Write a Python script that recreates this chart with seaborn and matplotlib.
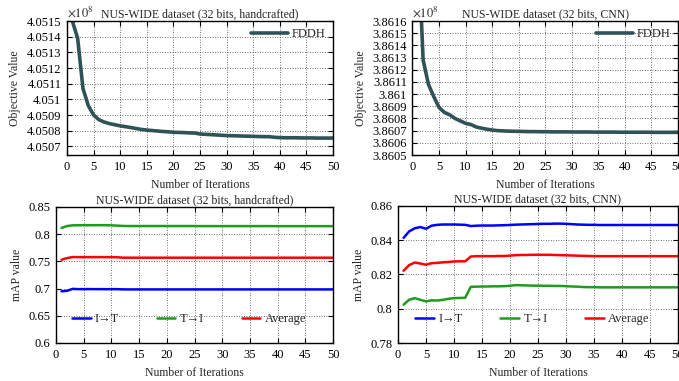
import numpy as np
import matplotlib
matplotlib.use("Agg")
import matplotlib.pyplot as plt
from matplotlib.ticker import MultipleLocator, FuncFormatter
import seaborn as sns

iters = list(range(1, 51))

# objective value (x 1e8), handcrafted features
obj_hand = [4.05150, 4.05139, 4.05107, 4.05096, 4.05090, 4.05087, 4.050855, 4.050845, 4.050838, 4.050831,
            4.050826, 4.050820, 4.050814, 4.050808, 4.050804, 4.050801, 4.050798, 4.050795, 4.050793, 4.050790,
            4.050789, 4.050788, 4.050786, 4.050785, 4.050779, 4.050777, 4.050775, 4.050773, 4.050771, 4.050769,
            4.050768, 4.050767, 4.050766, 4.050765, 4.050764, 4.050763, 4.050762, 4.050762, 4.050758, 4.050756,
            4.050755, 4.050755, 4.050755, 4.050754, 4.050754, 4.050754, 4.050753, 4.050753, 4.050753, 4.050753]

# objective value (x 1e8), CNN features
obj_cnn = [3.86230, 3.86128, 3.86108, 3.86098, 3.86089, 3.86085, 3.86083, 3.86080, 3.86078, 3.86076,
           3.86075, 3.86073, 3.86072, 3.860712, 3.860705, 3.860700, 3.860698, 3.860696, 3.860695, 3.860694,
           3.860693, 3.860692, 3.860692, 3.860691, 3.860691, 3.860690, 3.860690, 3.860690, 3.860690, 3.860689,
           3.860689, 3.860689, 3.860689, 3.860688, 3.860688, 3.860688, 3.860688, 3.860688, 3.860687, 3.860687,
           3.860687, 3.860687, 3.860687, 3.860687, 3.860686, 3.860686, 3.860686, 3.860686, 3.860686, 3.860686]

# mAP, handcrafted
hand_i2t = [0.6950, 0.6960, 0.6995, 0.6990, 0.6990, 0.6991, 0.6990, 0.6990, 0.6989, 0.6990,
            0.6990, 0.6986, 0.6985, 0.6985, 0.6985, 0.6985, 0.6985, 0.6985, 0.6985, 0.6985,
            0.6985, 0.6985, 0.6985, 0.6985, 0.6985, 0.6985, 0.6985, 0.6985, 0.6985, 0.6985,
            0.6985, 0.6985, 0.6985, 0.6985, 0.6985, 0.6985, 0.6985, 0.6985, 0.6985, 0.6985,
            0.6985, 0.6985, 0.6985, 0.6985, 0.6985, 0.6985, 0.6985, 0.6985, 0.6985, 0.6985]
hand_t2i = [0.8115, 0.8150, 0.8163, 0.8164, 0.8165, 0.8165, 0.8166, 0.8166, 0.8165, 0.8163,
            0.8158, 0.8152, 0.8150, 0.8150, 0.8150, 0.8150, 0.8150, 0.8150, 0.8150, 0.8150,
            0.8150, 0.8150, 0.8150, 0.8150, 0.8150, 0.8149, 0.8149, 0.8149, 0.8149, 0.8149,
            0.8149, 0.8149, 0.8149, 0.8149, 0.8149, 0.8149, 0.8149, 0.8149, 0.8148, 0.8148,
            0.8148, 0.8148, 0.8148, 0.8148, 0.8148, 0.8148, 0.8148, 0.8148, 0.8148, 0.8148]
hand_avg = [0.7532, 0.7560, 0.7580, 0.7578, 0.7578, 0.7578, 0.7579, 0.7579, 0.7578, 0.7578,
            0.7577, 0.7568, 0.7568, 0.7568, 0.7568, 0.7568, 0.7568, 0.7568, 0.7568, 0.7568,
            0.7568, 0.7568, 0.7568, 0.7568, 0.7568, 0.7568, 0.7568, 0.7568, 0.7568, 0.7568,
            0.7568, 0.7568, 0.7568, 0.7568, 0.7568, 0.7568, 0.7568, 0.7568, 0.7568, 0.7568,
            0.7568, 0.7568, 0.7568, 0.7568, 0.7568, 0.7568, 0.7568, 0.7568, 0.7568, 0.7568]

# mAP, CNN
cnn_i2t = [0.8414, 0.8452, 0.8470, 0.8477, 0.8467, 0.8485, 0.8490, 0.8492, 0.8492, 0.8492,
           0.8491, 0.8490, 0.8483, 0.8485, 0.8486, 0.8486, 0.8486, 0.8487, 0.8488, 0.8489,
           0.8491, 0.8492, 0.8493, 0.8494, 0.8495, 0.8496, 0.8496, 0.8497, 0.8497, 0.8496,
           0.8494, 0.8492, 0.8491, 0.8490, 0.8490, 0.8489, 0.8489, 0.8489, 0.8489, 0.8489,
           0.8489, 0.8489, 0.8489, 0.8489, 0.8489, 0.8489, 0.8489, 0.8489, 0.8489, 0.8489]
cnn_t2i = [0.8024, 0.8053, 0.8062, 0.8052, 0.8043, 0.8049, 0.8048, 0.8052, 0.8058, 0.8062,
           0.8063, 0.8064, 0.8128, 0.8129, 0.8130, 0.8130, 0.8131, 0.8131, 0.8132, 0.8134,
           0.8138, 0.8137, 0.8136, 0.8135, 0.8135, 0.8134, 0.8134, 0.8133, 0.8133, 0.8132,
           0.8130, 0.8129, 0.8127, 0.8126, 0.8126, 0.8125, 0.8125, 0.8125, 0.8125, 0.8125,
           0.8125, 0.8125, 0.8125, 0.8125, 0.8125, 0.8125, 0.8125, 0.8125, 0.8125, 0.8125]
cnn_avg = [0.8222, 0.8255, 0.8270, 0.8264, 0.8257, 0.8266, 0.8268, 0.8271, 0.8273, 0.8276,
           0.8277, 0.8277, 0.8305, 0.8307, 0.8307, 0.8307, 0.8307, 0.8308, 0.8308, 0.8310,
           0.8313, 0.8314, 0.8314, 0.8315, 0.8315, 0.8315, 0.8315, 0.8314, 0.8313, 0.8312,
           0.8311, 0.8310, 0.8309, 0.8308, 0.8307, 0.8307, 0.8307, 0.8307, 0.8307, 0.8307,
           0.8307, 0.8307, 0.8307, 0.8307, 0.8307, 0.8307, 0.8307, 0.8307, 0.8307, 0.8307]

sns.set_style("ticks")
plt.rcParams['font.family'] = ['Liberation Serif', 'DejaVu Serif']
plt.rcParams['mathtext.fontset'] = 'stix'
plt.rcParams['font.size'] = 9

fs = 9      # ticks / legend
fs_t = 8.5  # titles / axis labels
obj_color = '#2f5256'
fig = plt.figure(figsize=(6.79, 3.81), dpi=100)

def style_axis(ax, title, ylabel):
    ax.set_xlim(0, 50)
    ax.xaxis.set_major_locator(MultipleLocator(5))
    ax.yaxis.set_major_formatter(FuncFormatter(lambda v, p: '%g' % round(v, 6)))
    ax.tick_params(direction='in', top=True, right=True, length=3.5, width=0.8,
                   labelsize=fs, pad=4, colors='black')
    ax.grid(True, color='0.25', linestyle=(0, (1, 2)), linewidth=0.6)
    for s in ax.spines.values():
        s.set_linewidth(1.0)
        s.set_color('black')
    ax.set_title(title, fontsize=fs_t, pad=3)
    ax.set_xlabel('Number of Iterations', fontsize=fs_t, labelpad=5)
    ax.set_ylabel(ylabel, fontsize=fs_t, labelpad=4)

# top left
ax1 = fig.add_axes([67/679, 1 - 155/381, 266/679, 134/381])
sns.lineplot(x=iters, y=obj_hand, ax=ax1, color=obj_color, linewidth=2.6, label='FDDH')
ax1.set_ylim(4.050645, 4.0515)
ax1.yaxis.set_major_locator(MultipleLocator(0.0001))
style_axis(ax1, 'NUS-WIDE dataset (32 bits, handcrafted)', 'Objective Value')
ax1.text(0, 1.01, r'$\times10^{8}$', transform=ax1.transAxes, ha='left', va='bottom', fontsize=fs)
ax1.legend(loc='upper right', frameon=False, fontsize=fs, handlelength=3.0,
           borderaxespad=0.2, handletextpad=0.3)

# top right
ax2 = fig.add_axes([412.5/679, 1 - 155/381, 265.5/679, 134/381])
sns.lineplot(x=iters, y=obj_cnn, ax=ax2, color=obj_color, linewidth=2.6, label='FDDH')
ax2.set_ylim(3.8605, 3.8616)
ax2.yaxis.set_major_locator(MultipleLocator(0.0001))
style_axis(ax2, 'NUS-WIDE dataset (32 bits, CNN)', 'Objective Value')
ax2.text(0, 1.01, r'$\times10^{8}$', transform=ax2.transAxes, ha='left', va='bottom', fontsize=fs)
ax2.legend(loc='upper right', frameon=False, fontsize=fs, handlelength=3.0,
           borderaxespad=0.2, handletextpad=0.3)

# bottom left
ax3 = fig.add_axes([56/679, 1 - 343/381, 277/679, 136/381])
sns.lineplot(x=iters, y=hand_i2t, ax=ax3, color='#0000ff', linewidth=1.8, label='I\u2192T')
sns.lineplot(x=iters, y=hand_t2i, ax=ax3, color='#1f9a1f', linewidth=1.8, label='T\u2192I')
sns.lineplot(x=iters, y=hand_avg, ax=ax3, color='#ff0000', linewidth=1.8, label='Average')
ax3.set_ylim(0.6, 0.85)
ax3.yaxis.set_major_locator(MultipleLocator(0.05))
style_axis(ax3, 'NUS-WIDE dataset (32 bits, handcrafted)', 'mAP value')
ax3.legend(loc='center', bbox_to_anchor=(0.48, 0.176), ncol=3, frameon=False, fontsize=fs,
           handlelength=1.5, columnspacing=3.0, handletextpad=0.35)

# bottom right
ax4 = fig.add_axes([398/679, 1 - 343/381, 280/679, 137/381])
sns.lineplot(x=iters, y=cnn_i2t, ax=ax4, color='#0000ff', linewidth=1.8, label='I\u2192T')
sns.lineplot(x=iters, y=cnn_t2i, ax=ax4, color='#1f9a1f', linewidth=1.8, label='T\u2192I')
sns.lineplot(x=iters, y=cnn_avg, ax=ax4, color='#ff0000', linewidth=1.8, label='Average')
ax4.set_ylim(0.78, 0.86)
ax4.yaxis.set_major_locator(MultipleLocator(0.02))
style_axis(ax4, 'NUS-WIDE dataset (32 bits, CNN)', 'mAP value')
ax4.legend(loc='center', bbox_to_anchor=(0.48, 0.176), ncol=3, frameon=False, fontsize=fs,
           handlelength=1.5, columnspacing=3.0, handletextpad=0.35)

fig.savefig('out.png', dpi=100)
